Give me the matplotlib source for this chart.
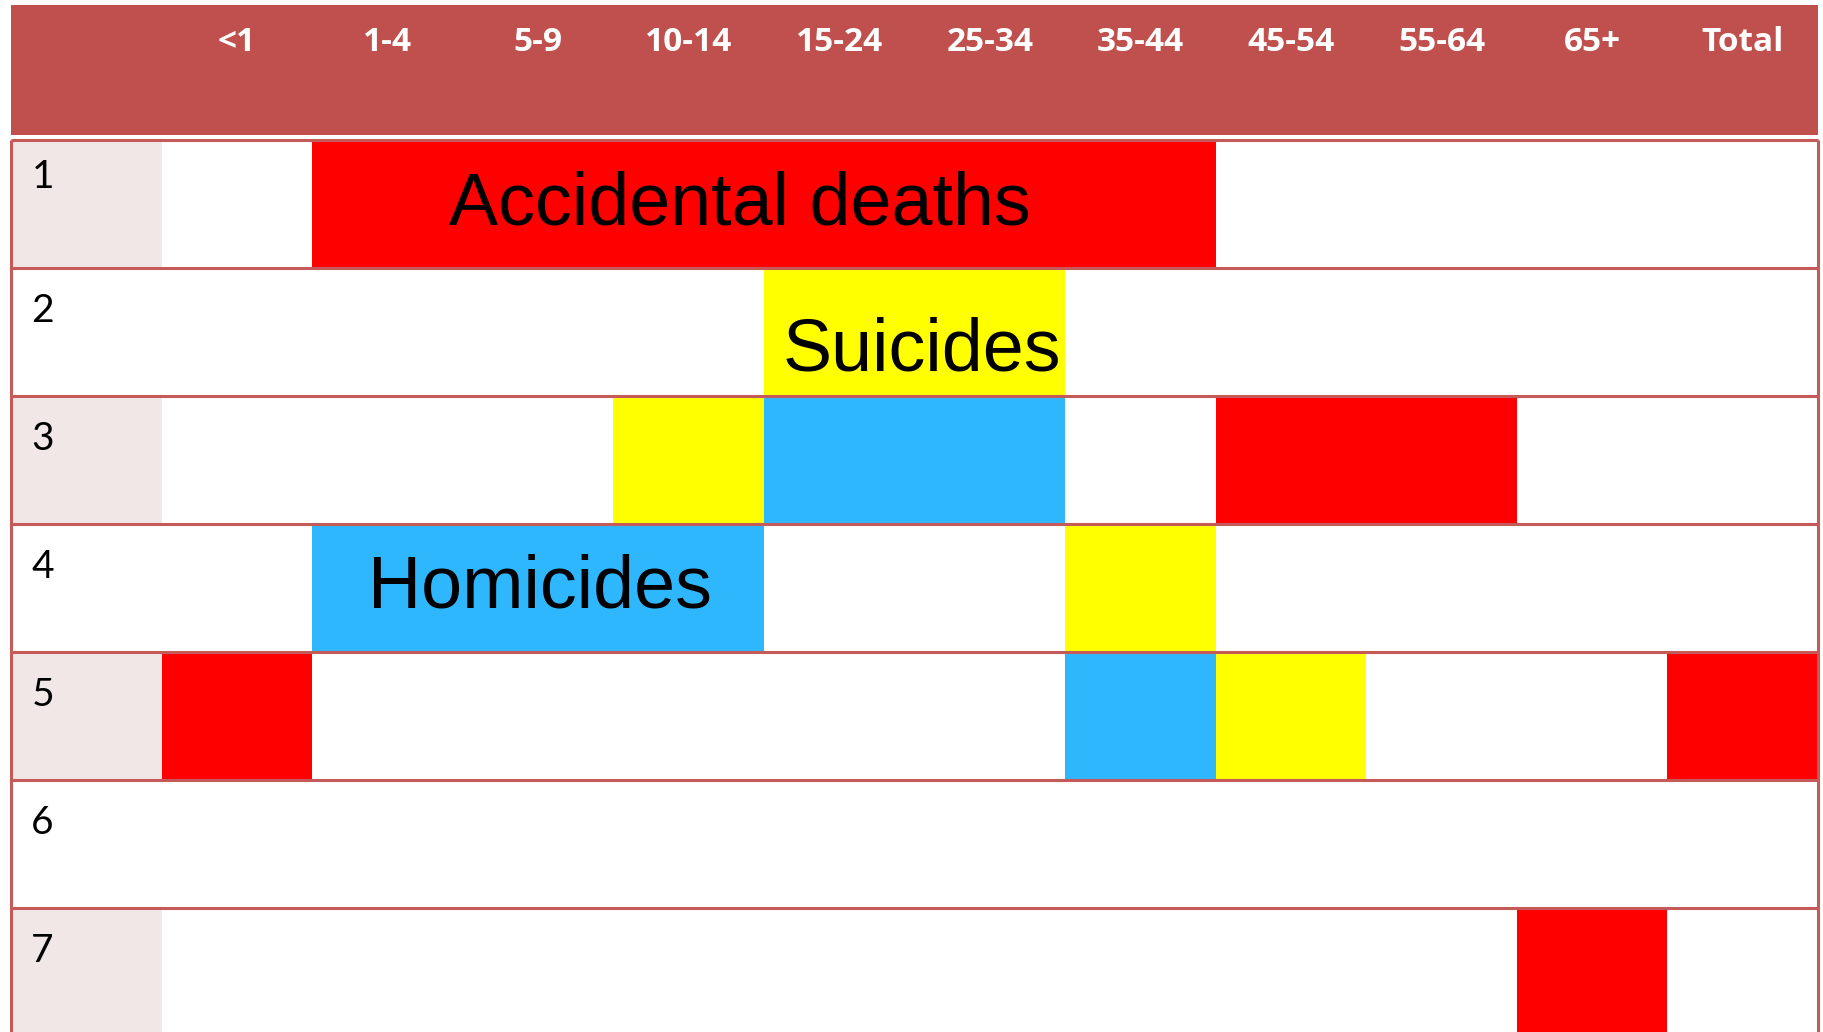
import numpy as np
import matplotlib.pyplot as plt

age_groups = ['<1', '1-4', '5-9', '10-14', '15-24', '25-34', '35-44',
              '45-54', '55-64', '65+', 'Total']
ranks = [1, 2, 3, 4, 5, 6, 7]

# rank of each cause inside each age group (None = not shown)
accidental_rank = [5, 1, 1, 1, 1, 1, 1, 3, 3, 7, 5]
suicide_rank = [None, None, None, 3, 2, 2, 4, 5, None, None, None]
homicide_rank = [None, 4, 4, 4, 3, 3, 5, None, None, None, None]

causes = ['Accidental deaths', 'Suicides', 'Homicides']
cause_ranks = [accidental_rank, suicide_rank, homicide_rank]
cause_colors = ['#FF0000', '#FFFF00', '#2FB7FE']
# where the cause name is written (column, row)
label_pos = [(3.84, 0.66), (5.05, 1.80), (2.51, 3.65)]

HEADER = '#C0504D'
LINE = '#C55A58'
BAND = '#F2E7E7'

W, H = 1824, 1032
fig = plt.figure(figsize=(W / 100, H / 100), dpi=100)
fig.patch.set_facecolor('white')
# axes: x -1..11 (label column + 11 age columns), y header..row 7
ax = fig.add_axes([11 / W, 1 - 1036 / H, (1818 - 11) / W, (1036 - 5) / H])
ax.set_xlim(-1, 11)
ax.set_ylim(7, -135 / 128)
ax.axis('off')

# header band
ax.axhspan(-135 / 128, -0.04, color=HEADER, lw=0)
for i, lab in enumerate(age_groups):
    ax.text(i + 0.5, -0.695, lab, ha='center', va='baseline', color='white',
            fontsize=24, fontweight='bold', family='Open Sans')

# banded first column
odd = [r - 1 for r in ranks if r % 2 == 1]
ax.bar([-1] * len(odd), 1, width=1, bottom=odd, align='edge', color=BAND,
       lw=0, antialiased=False)

# coloured cells
cols = np.arange(len(age_groups))
for name, rk, col in zip(causes, cause_ranks, cause_colors):
    xs = [c for c, r in zip(cols, rk) if r is not None]
    ys = [r - 1 for r in rk if r is not None]
    ax.bar(xs, 1, width=1, bottom=ys, align='edge', color=col, lw=0,
           antialiased=False, zorder=2)

for name, (x, y) in zip(causes, label_pos):
    ax.text(x, y, name, ha='center', va='baseline', fontsize=53,
            family='Liberation Sans', color='black', zorder=4)

# row numbers (first row sits a little higher in the original)
for r in ranks:
    off = 0.375 if r == 1 else 0.42
    ax.text(-0.865, r - 1 + off, str(r), ha='left', va='baseline',
            fontsize=28, family='Lato', color='black', zorder=4)

# grid lines
ax.hlines(np.arange(0, len(ranks) + 1), -1, 11, color=LINE, lw=2.2,
          zorder=3, clip_on=False)
ax.vlines([-1, 11], 0, len(ranks), color=LINE, lw=2.2, zorder=3,
          clip_on=False)

fig.savefig('out.png', dpi=100)
